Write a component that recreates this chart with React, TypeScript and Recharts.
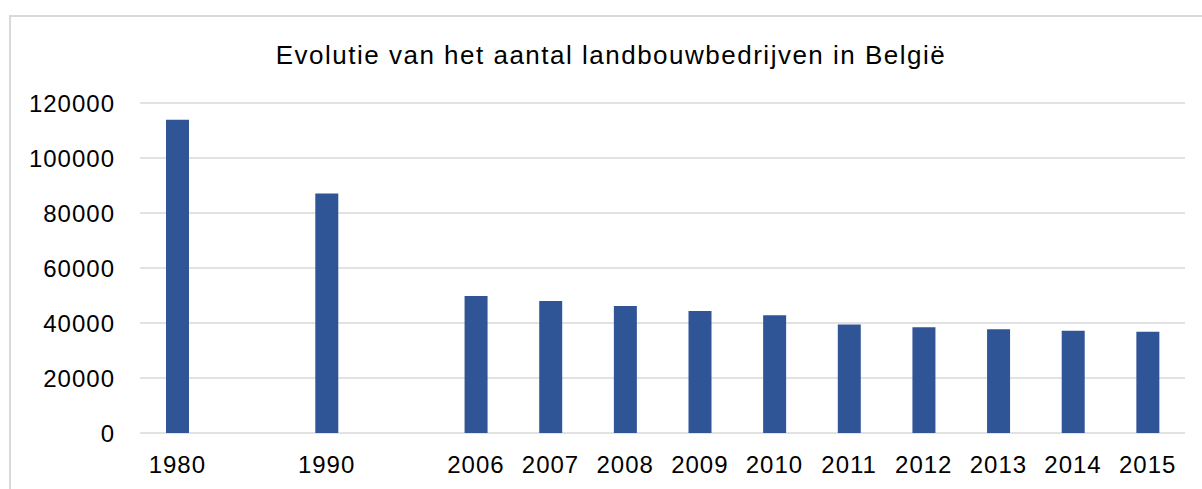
import { BarChart, Bar, XAxis, YAxis, CartesianGrid } from 'recharts';

// blank entries keep the gaps between 1980, 1990 and 2006
const years = ['1980', '', '1990', '', '2006', '2007', '2008', '2009', '2010', '2011', '2012', '2013', '2014', '2015'];
const farms: (number | null)[] = [113900, null, 87100, null, 49850, 48000, 46200, 44400, 42850, 39500, 38500, 37750, 37200, 36850];
const yTicks = [0, 20000, 40000, 60000, 80000, 100000, 120000];

const data = years.map((year, i) => ({ year, farms: farms[i] }));

const font = '"Liberation Sans", Arial, sans-serif';

export default function App() {
    return (
        <div style={{ position: 'absolute', left: 0, top: 0, width: 1202, height: 489, overflow: 'hidden', background: '#fff', fontFamily: font }}>
            {/* chart frame */}
            <div style={{ position: 'absolute', left: 9, top: 15, width: 1220, height: 490, border: '2px solid #d9d9d9' }} />
            <div
                style={{
                    position: 'absolute',
                    left: 0,
                    top: 40,
                    width: 1222,
                    textAlign: 'center',
                    fontSize: 26,
                    lineHeight: '30px',
                    color: '#000',
                    letterSpacing: 1.5,
                }}
            >
                Evolutie van het aantal landbouwbedrijven in België
            </div>
            <div style={{ position: 'absolute', left: 0, top: 0 }}>
                <BarChart width={1202} height={489} data={data} margin={{ top: 103, right: 17, left: 40, bottom: 16 }}>
                    <CartesianGrid vertical={false} stroke="#d9d9d9" strokeWidth={1.5} />
                    <XAxis
                        dataKey="year"
                        axisLine={false}
                        tickLine={false}
                        tickSize={0}
                        tickMargin={23}
                        height={40}
                        interval={0}
                        tick={{ fontSize: 24, fill: '#000', fontFamily: font, letterSpacing: 1 }}
                    />
                    <YAxis
                        domain={[0, 120000]}
                        ticks={yTicks}
                        axisLine={false}
                        tickLine={false}
                        tickSize={0}
                        tickMargin={25}
                        width={100}
                        tick={{ fontSize: 24, fill: '#000', fontFamily: font, letterSpacing: 1 }}
                    />
                    <Bar dataKey="farms" fill="#2F5597" barSize={23} isAnimationActive={false} />
                </BarChart>
            </div>
        </div>
    );
}
